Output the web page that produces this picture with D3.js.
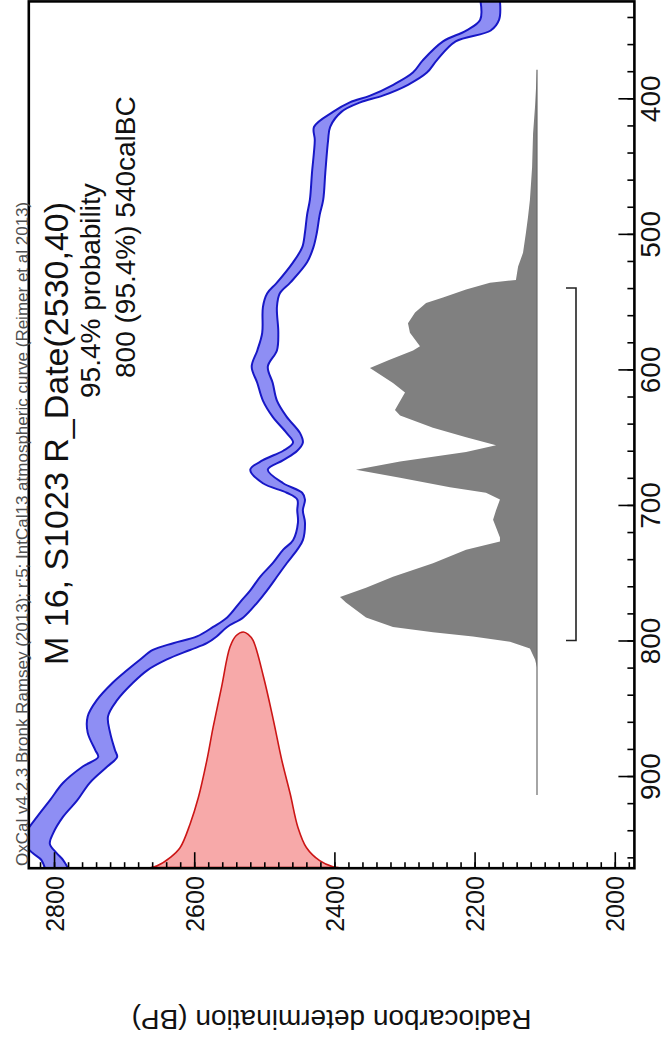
<!DOCTYPE html>
<html><head><meta charset="utf-8">
<script src="https://cdn.jsdelivr.net/npm/d3@7"></script>
<style>html,body{margin:0;padding:0;background:#fff;} svg{display:block;}</style>
</head><body>
<svg id="chart" width="666" height="1043"></svg>
<script>
// ---- data ----
// IntCal13 calibration curve band (calBC, upper BP, lower BP)
const curveCal = [327,342,350,358,372,381,390,398,403,410,421,431,455,475,486,499,510,521,536,544,554,573,586,598,610,623,635,647,654,660,667,674,684,691,696,704,713,726,733,743,753,763,772,783,790,797,802,807,814,822,831,844,856,868,881,886,893,905,918,930,942,950,957,962,970];
const curveHi = [2192,2192,2212,2245,2274,2288,2316,2349,2378,2402,2429,2428,2432,2435,2439,2442,2446,2459,2482,2496,2502,2503,2510,2518,2510,2502,2488,2468,2459,2473,2502,2520,2502,2468,2453,2453,2452,2459,2473,2488,2506,2520,2535,2553,2573,2596,2630,2659,2677,2696,2716,2739,2752,2752,2741,2737,2759,2787,2806,2824,2840,2842,2830,2818,2812];
const curveLo = [2164,2165,2177,2227,2254,2268,2295,2331,2363,2390,2406,2409,2413,2416,2421,2425,2430,2439,2463,2478,2482,2480,2482,2495,2488,2482,2468,2449,2445,2453,2473,2495,2473,2446,2442,2445,2442,2445,2453,2468,2482,2496,2510,2530,2553,2568,2582,2606,2639,2667,2687,2710,2723,2720,2713,2710,2724,2749,2767,2787,2801,2806,2796,2787,2778];
// Radiocarbon determination 2530±40 BP (relative probability)
const rDateBP   = [2662,2653,2634,2620,2606,2594,2582,2573,2561,2549,2540,2530,2523,2516,2501,2487,2475,2463,2452,2440,2421,2402,2394];
const rDateProb = [0,0.007,0.043,0.085,0.184,0.298,0.455,0.596,0.766,0.936,0.985,1.0,0.99,0.964,0.808,0.625,0.455,0.312,0.170,0.085,0.029,0.003,0];
// Calibrated distribution (calBC, relative probability)
const postCal  = [379,406,426,451,475,488,499,514,524,534,536,541,547,551,558,566,573,583,586,593,599,610,617,630,634,643,650,656,661,668,674,680,687,691,696,704,711,724,727,733,743,753,761,768,772,783,790,794,797,801,806,814,820,914];
const postProb = [0,0.010,0.020,0.025,0.036,0.046,0.056,0.071,0.096,0.107,0.239,0.360,0.477,0.563,0.619,0.655,0.645,0.594,0.629,0.751,0.848,0.731,0.670,0.721,0.695,0.528,0.360,0.208,0.360,0.695,0.919,0.695,0.442,0.259,0.188,0.208,0.223,0.188,0.188,0.360,0.528,0.731,0.868,1.0,0.970,0.868,0.731,0.528,0.325,0.137,0.036,0.010,0,0];
// 95.4% range
const rangeFrom = 800, rangeTo = 540;
// ticks
const bpTicks  = [2800,2600,2400,2200,2000];
const calTicks = [400,500,600,700,800,900];
// texts
const headerText = "OxCal v4.2.3 Bronk Ramsey (2013); r:5; IntCal13 atmospheric curve (Reimer et al 2013)";
const titleText  = "M 16, S1023 R_Date(2530,40)";
const probText   = "95.4% probability";
const rangeText  = "800 (95.4%) 540calBC";
const bpAxisTitle = "Radiocarbon determination (BP)";

// ---- drawing ----
const FONT = "'Liberation Sans', Arial, Helvetica, sans-serif";
const svg = d3.select("#chart");
svg.append("rect").attr("width",666).attr("height",1043).attr("fill","#fff");

const xBP  = d3.scaleLinear().domain([2836, 1972]).range([28.8, 634.4]);
const yCal = d3.scaleLinear().domain([328.5, 968]).range([1.4, 868.2]);
const yR   = d3.scaleLinear().domain([0, 1]).range([867.5, 632]);
const xG   = d3.scaleLinear().domain([0, 1]).range([537, 340]);

const [fx0, fx1] = xBP.range();
const [fy0, fy1] = yCal.range();

svg.append("defs").append("clipPath").attr("id","plotClip")
  .append("rect").attr("x",fx0).attr("y",fy0).attr("width",fx1-fx0).attr("height",fy1-fy0);
const plot = svg.append("g").attr("clip-path","url(#plotClip)");

// calibrated distribution (grey)
const post = postCal.map((c,i)=>({c, p: postProb[i]}));
plot.append("path").datum(post)
  .attr("d", d3.area().y(d=>yCal(d.c)).x0(xG(0)).x1(d=>xG(d.p)))
  .attr("fill","#808080");
plot.append("line")
  .attr("x1",xG(0)).attr("x2",xG(0))
  .attr("y1",yCal(postCal[0])).attr("y2",yCal(postCal[postCal.length-1]))
  .attr("stroke","#6a6a6a").attr("stroke-width",1.2);

// 95.4% range bracket
const rangeX = 576;
const rg = plot.append("g").attr("stroke","#222").attr("stroke-width",1.6).attr("fill","none");
rg.append("path").attr("d",
  `M${rangeX-10},${yCal(rangeTo)} H${rangeX} V${yCal(rangeFrom)} H${rangeX-10}`);

// radiocarbon determination (red)
const rd = rDateBP.map((b,i)=>({b, p: rDateProb[i]}));
plot.append("path").datum(rd)
  .attr("d", d3.area().curve(d3.curveCatmullRom).x(d=>xBP(d.b)).y0(yR(0)).y1(d=>yR(d.p)))
  .attr("fill","#f7a9a9").attr("stroke","#cc1616").attr("stroke-width",1.6);

// calibration curve (blue band)
const cc = curveCal.map((c,i)=>({c, hi: curveHi[i], lo: curveLo[i]}));
plot.append("path").datum(cc)
  .attr("d", d3.area().curve(d3.curveCatmullRom).y(d=>yCal(d.c)).x0(d=>xBP(d.hi)).x1(d=>xBP(d.lo)))
  .attr("fill","#8e8ef4");
["hi","lo"].forEach(k=>{
  plot.append("path").datum(cc)
    .attr("d", d3.line().curve(d3.curveCatmullRom).x(d=>xBP(d[k])).y(d=>yCal(d.c)))
    .attr("fill","none").attr("stroke","#1717c6").attr("stroke-width",2);
});

// ---- axes ----
function styleAxis(g){
  g.attr("font-family",FONT);
  g.select(".domain").remove();
  g.selectAll(".tick line").attr("stroke","#000").attr("stroke-width",1.6);
}
// bottom (BP)
svg.append("g").attr("transform",`translate(0,${fy1})`)
  .call(d3.axisBottom(xBP).tickValues(d3.range(1980, 2821, 20)).tickSize(-6).tickFormat(""))
  .call(styleAxis);
const axB = svg.append("g").attr("transform",`translate(0,${fy1})`)
  .call(d3.axisBottom(xBP).tickValues(bpTicks).tickSize(-16).tickFormat(d3.format("d")))
  .call(styleAxis);
axB.selectAll(".tick text")
  .attr("transform","rotate(-90)").attr("x",-8).attr("y",9).attr("dy",null)
  .attr("text-anchor","end").attr("font-size",25).attr("fill","#111");

// right (calBC)
svg.append("g").attr("transform",`translate(${fx1},0)`)
  .call(d3.axisRight(yCal).tickValues(d3.range(340, 961, 20)).tickSize(-7).tickFormat(""))
  .call(styleAxis);
const axR = svg.append("g").attr("transform",`translate(${fx1},0)`)
  .call(d3.axisRight(yCal).tickValues(calTicks).tickSize(-16).tickFormat(d3.format("d")))
  .call(styleAxis);
axR.selectAll(".tick text")
  .attr("transform","rotate(-90)").attr("x",0).attr("y",26).attr("dy",null)
  .attr("text-anchor","middle").attr("font-size",28).attr("fill","#111");

// frame
svg.append("rect").attr("x",fx0).attr("y",fy0).attr("width",fx1-fx0).attr("height",fy1-fy0)
  .attr("fill","none").attr("stroke","#000").attr("stroke-width",2.6);

// ---- texts ----
function rtext(x, y, txt, size, color, anchor, rot){
  svg.append("text").attr("transform",`translate(${x},${y}) rotate(${rot})`)
    .attr("font-family",FONT).attr("font-size",size).attr("fill",color)
    .attr("text-anchor",anchor).text(txt);
}
rtext(27.5, 866, headerText, 17, "#505050", "start", -90);
rtext(68, 665, titleText, 34, "#111", "start", -90);
rtext(100, 398, probText, 28, "#111", "start", -90);
rtext(135, 378, rangeText, 28, "#111", "start", -90);
rtext((fx0+fx1)/2, 1010, bpAxisTitle, 28, "#111", "middle", 180);
</script>
</body></html>
